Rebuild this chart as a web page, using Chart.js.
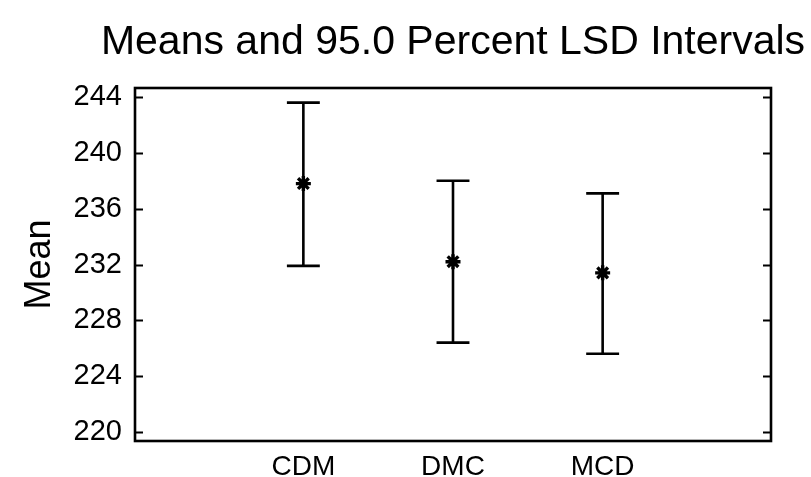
<!DOCTYPE html>
<html>
<head>
<meta charset="utf-8">
<script src="https://cdn.jsdelivr.net/npm/chart.js@4.4.1/dist/chart.umd.min.js"></script>
<style>
  html, body { margin: 0; padding: 0; background: #fff; }
  #wrap { width: 811px; height: 477px; }
</style>
</head>
<body>
<div id="wrap"><canvas id="chart" width="811" height="477"></canvas></div>
<script>
// --- data ---
const categories = ['CDM', 'DMC', 'MCD']
const means = [237.8, 232.2, 231.4]
const lower = [231.9, 226.4, 225.6]
const upper = [243.6, 238.0, 237.1]
const yTicks = [220, 224, 228, 232, 236, 240, 244]
const titleText = 'Means and 95.0 Percent LSD Intervals'

const FONT = '"Liberation Sans", Arial, Helvetica, sans-serif'
const INK = '#000'

// box, inward ticks, LSD interval bars and the title (centred over the plot box)
const framePlugin = {
  id: 'frame',
  afterDatasetsDraw(chart) {
    const {ctx, chartArea: a, scales: {x, y}} = chart
    ctx.save()
    ctx.strokeStyle = INK
    ctx.lineCap = 'butt'

    // intervals
    ctx.lineWidth = 2.6
    categories.forEach((c, i) => {
      const px = x.getPixelForValue(i + 1)
      const half = x.getPixelForValue(i + 1.11) - px
      const top = y.getPixelForValue(upper[i])
      const bot = y.getPixelForValue(lower[i])
      ctx.beginPath()
      ctx.moveTo(px, top); ctx.lineTo(px, bot)
      ctx.moveTo(px - half, top); ctx.lineTo(px + half, top)
      ctx.moveTo(px - half, bot); ctx.lineTo(px + half, bot)
      ctx.stroke()
    })

    // inward tick marks on both sides
    ctx.lineWidth = 2
    yTicks.forEach(v => {
      const py = Math.round(y.getPixelForValue(v)) + 0.5
      ctx.beginPath()
      ctx.moveTo(a.left, py); ctx.lineTo(a.left + 8, py)
      ctx.moveTo(a.right, py); ctx.lineTo(a.right - 8, py)
      ctx.stroke()
    })

    // frame
    ctx.lineWidth = 2.6
    ctx.strokeRect(a.left, a.top, a.right - a.left, a.bottom - a.top)

    // title
    ctx.fillStyle = INK
    ctx.font = '41px ' + FONT
    ctx.textAlign = 'center'
    ctx.textBaseline = 'alphabetic'
    ctx.fillText(titleText, (a.left + a.right) / 2, 54)
    ctx.restore()
  }
}

try {
  const ctx = document.getElementById('chart')
  new Chart(ctx, {
    type: 'scatter',
    data: {
      datasets: [{
        label: 'Mean',
        data: means.map((m, i) => ({x: i + 1, y: m})),
        pointStyle: 'star',
        radius: 7.5,
        borderWidth: 3.4,
        borderColor: INK,
        backgroundColor: INK
      }]
    },
    options: {
      responsive: false,
      animation: false,
      layout: {padding: {top: 88, right: 40, bottom: 0, left: 0}},
      plugins: {
        legend: {display: false},
        tooltip: {enabled: false},
        title: {display: false}
      },
      scales: {
        x: {
          type: 'linear',
          min: -0.125,
          max: 4.125,
          afterBuildTicks(s) { s.ticks = categories.map((c, i) => ({value: i + 1})) },
          afterFit(s) { s.height = 36 },
          grid: {display: false, drawTicks: false},
          border: {display: false},
          ticks: {
            color: INK,
            padding: 9,
            maxRotation: 0,
            autoSkip: false,
            font: {family: FONT, size: 28},
            callback: v => categories[v - 1] || ''
          }
        },
        y: {
          min: 219.35,
          max: 244.65,
          afterBuildTicks(s) { s.ticks = yTicks.map(v => ({value: v})) },
          afterFit(s) { s.width = 135 },
          grid: {display: false, drawTicks: false},
          border: {display: false},
          ticks: {
            color: INK,
            padding: 13,
            font: {family: FONT, size: 29}
          },
          title: {
            display: true,
            text: 'Mean',
            color: INK,
            font: {family: FONT, size: 36, lineHeight: 1.2},
            padding: {top: 18, bottom: 0}
          }
        }
      }
    },
    plugins: [framePlugin]
  })
} catch (e) {
  console.error('Error drawing chart:', e)
}
</script>
</body>
</html>
